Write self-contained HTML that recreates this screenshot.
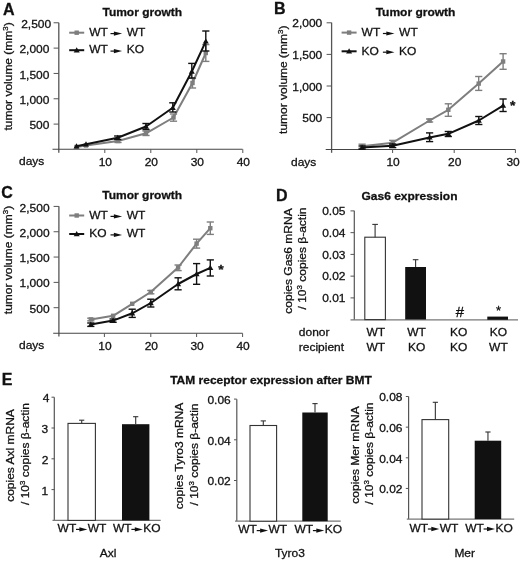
<!DOCTYPE html>
<html><head><meta charset="utf-8"><style>
html,body{margin:0;padding:0;background:#fff;width:520px;height:561px;overflow:hidden}
svg{display:block;font-family:"Liberation Sans",sans-serif;will-change:transform}
</style></head><body>
<svg width="520" height="561" viewBox="0 0 520 561" font-family="Liberation Sans, sans-serif">
<rect width="520" height="561" fill="#fff"/>
<text transform="translate(3,15.3) scale(1,1)" text-anchor="start" font-size="16" font-weight="bold" fill="#111" stroke="#111" stroke-width="0.3" >A</text>
<text transform="translate(274,13.8) scale(1,1)" text-anchor="start" font-size="16" font-weight="bold" fill="#111" stroke="#111" stroke-width="0.3" >B</text>
<text transform="translate(1.2,198.2) scale(1,1)" text-anchor="start" font-size="16" font-weight="bold" fill="#111" stroke="#111" stroke-width="0.3" >C</text>
<text transform="translate(276,200.5) scale(1,1)" text-anchor="start" font-size="16" font-weight="bold" fill="#111" stroke="#111" stroke-width="0.3" >D</text>
<text transform="translate(1.8,384.5) scale(1,1)" text-anchor="start" font-size="16" font-weight="bold" fill="#111" stroke="#111" stroke-width="0.3" >E</text>
<line x1="58.8" y1="22.7" x2="58.8" y2="152.8" stroke="#555" stroke-width="1.3"/>
<line x1="52.5" y1="149.3" x2="242.6" y2="149.3" stroke="#444" stroke-width="1.1"/>
<line x1="53.6" y1="124.1" x2="58.8" y2="124.1" stroke="#555" stroke-width="1"/>
<text transform="translate(49.4,129.2) scale(1,0.93)" text-anchor="end" font-size="12" fill="#111" stroke="#111" stroke-width="0.3" >500</text>
<line x1="53.6" y1="98.77" x2="58.8" y2="98.77" stroke="#555" stroke-width="1"/>
<text transform="translate(49.4,103.86999999999999) scale(1,0.93)" text-anchor="end" font-size="12" fill="#111" stroke="#111" stroke-width="0.3" >1,000</text>
<line x1="53.6" y1="73.44" x2="58.8" y2="73.44" stroke="#555" stroke-width="1"/>
<text transform="translate(49.4,78.53999999999999) scale(1,0.93)" text-anchor="end" font-size="12" fill="#111" stroke="#111" stroke-width="0.3" >1,500</text>
<line x1="53.6" y1="48.11" x2="58.8" y2="48.11" stroke="#555" stroke-width="1"/>
<text transform="translate(49.4,53.21) scale(1,0.93)" text-anchor="end" font-size="12" fill="#111" stroke="#111" stroke-width="0.3" >2,000</text>
<line x1="53.6" y1="22.78" x2="58.8" y2="22.78" stroke="#555" stroke-width="1"/>
<text transform="translate(51.2,27.880000000000003) scale(1,0.93)" text-anchor="end" font-size="12" fill="#111" stroke="#111" stroke-width="0.3" >2,500</text>
<line x1="104.8" y1="149.3" x2="104.8" y2="153" stroke="#555" stroke-width="1"/>
<text transform="translate(105.3,165.9) scale(1,0.93)" text-anchor="middle" font-size="12" fill="#111" stroke="#111" stroke-width="0.3" >10</text>
<line x1="150.8" y1="149.3" x2="150.8" y2="153" stroke="#555" stroke-width="1"/>
<text transform="translate(151.3,165.9) scale(1,0.93)" text-anchor="middle" font-size="12" fill="#111" stroke="#111" stroke-width="0.3" >20</text>
<line x1="196.8" y1="149.3" x2="196.8" y2="153" stroke="#555" stroke-width="1"/>
<text transform="translate(197.3,165.9) scale(1,0.93)" text-anchor="middle" font-size="12" fill="#111" stroke="#111" stroke-width="0.3" >30</text>
<line x1="242.8" y1="149.3" x2="242.8" y2="153" stroke="#555" stroke-width="1"/>
<text transform="translate(243.3,165.9) scale(1,0.93)" text-anchor="middle" font-size="12" fill="#111" stroke="#111" stroke-width="0.3" >40</text>
<text transform="translate(19,165.4) scale(1,0.93)" text-anchor="start" font-size="12" fill="#111" stroke="#111" stroke-width="0.3" >days</text>
<text transform="translate(12,76.4) rotate(-90) scale(1,0.93)" x="0" y="0" text-anchor="middle" font-size="12" fill="#111" stroke="#111" stroke-width="0.3">tumor volume (mm<tspan font-size="8" dy="-4.5">3</tspan><tspan dy="4.5">)</tspan></text>
<text transform="translate(142.3,15.6) scale(1,0.93)" text-anchor="middle" font-size="12" font-weight="bold" fill="#111" stroke="#111" stroke-width="0.3" >Tumor growth</text>
<line x1="69.2" y1="32.7" x2="84.2" y2="32.7" stroke="#7e7e7e" stroke-width="2"/>
<rect x="74.5" y="30.500000000000004" width="4.4" height="4.4" fill="#7e7e7e"/>
<text transform="translate(89.2,35.900000000000006) scale(1,0.93)" text-anchor="start" font-size="12" fill="#111" stroke="#111" stroke-width="0.3" >WT</text>
<line x1="110.5" y1="33.6" x2="114.39999999999999" y2="33.6" stroke="#111" stroke-width="1.2"/>
<path d="M113.89999999999999,31.5 L122.1,33.6 L113.89999999999999,35.7 Z" fill="#111"/>
<text transform="translate(126.7,35.900000000000006) scale(1,0.93)" text-anchor="start" font-size="12" fill="#111" stroke="#111" stroke-width="0.3" >WT</text>
<line x1="69.2" y1="50.2" x2="84.2" y2="50.2" stroke="#111" stroke-width="2"/>
<path d="M76.7,47.2 L79.7,52.400000000000006 L73.7,52.400000000000006 Z" fill="#111"/>
<text transform="translate(89.2,53.400000000000006) scale(1,0.93)" text-anchor="start" font-size="12" fill="#111" stroke="#111" stroke-width="0.3" >WT</text>
<line x1="110.5" y1="51.1" x2="114.39999999999999" y2="51.1" stroke="#111" stroke-width="1.2"/>
<path d="M113.89999999999999,49.0 L122.1,51.1 L113.89999999999999,53.2 Z" fill="#111"/>
<text transform="translate(126.7,53.400000000000006) scale(1,0.93)" text-anchor="start" font-size="12" fill="#111" stroke="#111" stroke-width="0.3" >KO</text>
<polyline points="76.5,147 86,145.5 118,141 146,133.3 173.5,117.5 192.5,83 205.8,53" fill="none" stroke="#7e7e7e" stroke-width="2" stroke-linejoin="round"/>
<line x1="118" y1="139.5" x2="118" y2="142.5" stroke="#7e7e7e" stroke-width="1.4"/>
<line x1="114.4" y1="139.5" x2="121.6" y2="139.5" stroke="#7e7e7e" stroke-width="1.4"/>
<line x1="114.4" y1="142.5" x2="121.6" y2="142.5" stroke="#7e7e7e" stroke-width="1.4"/>
<line x1="146" y1="131" x2="146" y2="135.5" stroke="#7e7e7e" stroke-width="1.4"/>
<line x1="142.4" y1="131" x2="149.6" y2="131" stroke="#7e7e7e" stroke-width="1.4"/>
<line x1="142.4" y1="135.5" x2="149.6" y2="135.5" stroke="#7e7e7e" stroke-width="1.4"/>
<line x1="173.5" y1="114" x2="173.5" y2="121.2" stroke="#7e7e7e" stroke-width="1.4"/>
<line x1="169.9" y1="114" x2="177.1" y2="114" stroke="#7e7e7e" stroke-width="1.4"/>
<line x1="169.9" y1="121.2" x2="177.1" y2="121.2" stroke="#7e7e7e" stroke-width="1.4"/>
<line x1="192.5" y1="78.3" x2="192.5" y2="88" stroke="#7e7e7e" stroke-width="1.4"/>
<line x1="188.9" y1="78.3" x2="196.1" y2="78.3" stroke="#7e7e7e" stroke-width="1.4"/>
<line x1="188.9" y1="88" x2="196.1" y2="88" stroke="#7e7e7e" stroke-width="1.4"/>
<line x1="205.8" y1="44.6" x2="205.8" y2="61.4" stroke="#7e7e7e" stroke-width="1.4"/>
<line x1="202.20000000000002" y1="44.6" x2="209.4" y2="44.6" stroke="#7e7e7e" stroke-width="1.4"/>
<line x1="202.20000000000002" y1="61.4" x2="209.4" y2="61.4" stroke="#7e7e7e" stroke-width="1.4"/>
<rect x="74.3" y="144.8" width="4.4" height="4.4" fill="#7e7e7e"/>
<rect x="83.8" y="143.3" width="4.4" height="4.4" fill="#7e7e7e"/>
<rect x="115.8" y="138.8" width="4.4" height="4.4" fill="#7e7e7e"/>
<rect x="143.8" y="131.10000000000002" width="4.4" height="4.4" fill="#7e7e7e"/>
<rect x="171.3" y="115.3" width="4.4" height="4.4" fill="#7e7e7e"/>
<rect x="190.3" y="80.8" width="4.4" height="4.4" fill="#7e7e7e"/>
<rect x="203.60000000000002" y="50.8" width="4.4" height="4.4" fill="#7e7e7e"/>
<polyline points="76.5,146.3 86,144.2 117.7,137.7 146,126.5 172.8,107.8 191.8,71.5 205.8,41.4" fill="none" stroke="#111" stroke-width="2" stroke-linejoin="round"/>
<line x1="117.7" y1="136" x2="117.7" y2="139.5" stroke="#111" stroke-width="1.4"/>
<line x1="114.10000000000001" y1="136" x2="121.3" y2="136" stroke="#111" stroke-width="1.4"/>
<line x1="114.10000000000001" y1="139.5" x2="121.3" y2="139.5" stroke="#111" stroke-width="1.4"/>
<line x1="146" y1="123.5" x2="146" y2="129.5" stroke="#111" stroke-width="1.4"/>
<line x1="142.4" y1="123.5" x2="149.6" y2="123.5" stroke="#111" stroke-width="1.4"/>
<line x1="142.4" y1="129.5" x2="149.6" y2="129.5" stroke="#111" stroke-width="1.4"/>
<line x1="172.8" y1="102.8" x2="172.8" y2="112" stroke="#111" stroke-width="1.4"/>
<line x1="169.20000000000002" y1="102.8" x2="176.4" y2="102.8" stroke="#111" stroke-width="1.4"/>
<line x1="169.20000000000002" y1="112" x2="176.4" y2="112" stroke="#111" stroke-width="1.4"/>
<line x1="191.8" y1="63.4" x2="191.8" y2="78" stroke="#111" stroke-width="1.4"/>
<line x1="188.20000000000002" y1="63.4" x2="195.4" y2="63.4" stroke="#111" stroke-width="1.4"/>
<line x1="188.20000000000002" y1="78" x2="195.4" y2="78" stroke="#111" stroke-width="1.4"/>
<line x1="205.8" y1="31" x2="205.8" y2="51" stroke="#111" stroke-width="1.4"/>
<line x1="202.20000000000002" y1="31" x2="209.4" y2="31" stroke="#111" stroke-width="1.4"/>
<line x1="202.20000000000002" y1="51" x2="209.4" y2="51" stroke="#111" stroke-width="1.4"/>
<path d="M76.5,143.3 L79.5,148.5 L73.5,148.5 Z" fill="#111"/>
<path d="M86,141.2 L89,146.39999999999998 L83,146.39999999999998 Z" fill="#111"/>
<path d="M117.7,134.7 L120.7,139.89999999999998 L114.7,139.89999999999998 Z" fill="#111"/>
<path d="M146,123.5 L149,128.7 L143,128.7 Z" fill="#111"/>
<path d="M172.8,104.8 L175.8,110.0 L169.8,110.0 Z" fill="#111"/>
<path d="M191.8,68.5 L194.8,73.7 L188.8,73.7 Z" fill="#111"/>
<path d="M205.8,38.4 L208.8,43.6 L202.8,43.6 Z" fill="#111"/>
<line x1="331.6" y1="22.6" x2="331.6" y2="152.8" stroke="#555" stroke-width="1.3"/>
<line x1="325.7" y1="149.5" x2="515.4" y2="149.5" stroke="#444" stroke-width="1.1"/>
<line x1="326.6" y1="117.6" x2="331.6" y2="117.6" stroke="#555" stroke-width="1"/>
<text transform="translate(322.3,122.19999999999999) scale(1,0.93)" text-anchor="end" font-size="12" fill="#111" stroke="#111" stroke-width="0.3" >500</text>
<line x1="326.6" y1="86.0" x2="331.6" y2="86.0" stroke="#555" stroke-width="1"/>
<text transform="translate(322.3,90.6) scale(1,0.93)" text-anchor="end" font-size="12" fill="#111" stroke="#111" stroke-width="0.3" >1,000</text>
<line x1="326.6" y1="54.39999999999999" x2="331.6" y2="54.39999999999999" stroke="#555" stroke-width="1"/>
<text transform="translate(322.3,58.99999999999999) scale(1,0.93)" text-anchor="end" font-size="12" fill="#111" stroke="#111" stroke-width="0.3" >1,500</text>
<line x1="326.6" y1="22.799999999999983" x2="331.6" y2="22.799999999999983" stroke="#555" stroke-width="1"/>
<text transform="translate(322.3,27.399999999999984) scale(1,0.93)" text-anchor="end" font-size="12" fill="#111" stroke="#111" stroke-width="0.3" >2,000</text>
<line x1="392.6" y1="149.5" x2="392.6" y2="153" stroke="#555" stroke-width="1"/>
<text transform="translate(393.1,165.9) scale(1,0.93)" text-anchor="middle" font-size="12" fill="#111" stroke="#111" stroke-width="0.3" >10</text>
<line x1="454.2" y1="149.5" x2="454.2" y2="153" stroke="#555" stroke-width="1"/>
<text transform="translate(454.7,165.9) scale(1,0.93)" text-anchor="middle" font-size="12" fill="#111" stroke="#111" stroke-width="0.3" >20</text>
<line x1="515.4" y1="149.5" x2="515.4" y2="153" stroke="#555" stroke-width="1"/>
<text transform="translate(513.1,165.9) scale(1,0.93)" text-anchor="middle" font-size="12" fill="#111" stroke="#111" stroke-width="0.3" >30</text>
<text transform="translate(291,165.6) scale(1,0.93)" text-anchor="start" font-size="12" fill="#111" stroke="#111" stroke-width="0.3" >days</text>
<text transform="translate(287.2,79.7) rotate(-90) scale(1,0.93)" x="0" y="0" text-anchor="middle" font-size="12" fill="#111" stroke="#111" stroke-width="0.3">tumor volume (mm<tspan font-size="8" dy="-4.5">3</tspan><tspan dy="4.5">)</tspan></text>
<text transform="translate(415.5,16.3) scale(1,0.93)" text-anchor="middle" font-size="12" font-weight="bold" fill="#111" stroke="#111" stroke-width="0.3" >Tumor growth</text>
<line x1="341.6" y1="32.6" x2="356.6" y2="32.6" stroke="#7e7e7e" stroke-width="2"/>
<rect x="346.90000000000003" y="30.400000000000002" width="4.4" height="4.4" fill="#7e7e7e"/>
<text transform="translate(361.6,35.800000000000004) scale(1,0.93)" text-anchor="start" font-size="12" fill="#111" stroke="#111" stroke-width="0.3" >WT</text>
<line x1="382.90000000000003" y1="33.5" x2="386.80000000000007" y2="33.5" stroke="#111" stroke-width="1.2"/>
<path d="M386.30000000000007,31.4 L394.50000000000006,33.5 L386.30000000000007,35.6 Z" fill="#111"/>
<text transform="translate(399.1,35.800000000000004) scale(1,0.93)" text-anchor="start" font-size="12" fill="#111" stroke="#111" stroke-width="0.3" >WT</text>
<line x1="341.6" y1="51.3" x2="356.6" y2="51.3" stroke="#111" stroke-width="2"/>
<path d="M349.1,48.3 L352.1,53.5 L346.1,53.5 Z" fill="#111"/>
<text transform="translate(361.6,54.5) scale(1,0.93)" text-anchor="start" font-size="12" fill="#111" stroke="#111" stroke-width="0.3" >KO</text>
<line x1="382.90000000000003" y1="52.199999999999996" x2="386.80000000000007" y2="52.199999999999996" stroke="#111" stroke-width="1.2"/>
<path d="M386.30000000000007,50.099999999999994 L394.50000000000006,52.199999999999996 L386.30000000000007,54.3 Z" fill="#111"/>
<text transform="translate(399.1,54.5) scale(1,0.93)" text-anchor="start" font-size="12" fill="#111" stroke="#111" stroke-width="0.3" >KO</text>
<polyline points="362.1,146.2 392.7,142.7 429.6,120.5 448.3,109.8 478.7,83.6 503.1,61.5" fill="none" stroke="#7e7e7e" stroke-width="2" stroke-linejoin="round"/>
<line x1="362.1" y1="144.2" x2="362.1" y2="148.2" stroke="#7e7e7e" stroke-width="1.4"/>
<line x1="358.5" y1="144.2" x2="365.70000000000005" y2="144.2" stroke="#7e7e7e" stroke-width="1.4"/>
<line x1="358.5" y1="148.2" x2="365.70000000000005" y2="148.2" stroke="#7e7e7e" stroke-width="1.4"/>
<line x1="392.7" y1="140.4" x2="392.7" y2="144.8" stroke="#7e7e7e" stroke-width="1.4"/>
<line x1="389.09999999999997" y1="140.4" x2="396.3" y2="140.4" stroke="#7e7e7e" stroke-width="1.4"/>
<line x1="389.09999999999997" y1="144.8" x2="396.3" y2="144.8" stroke="#7e7e7e" stroke-width="1.4"/>
<line x1="429.6" y1="119" x2="429.6" y2="122" stroke="#7e7e7e" stroke-width="1.4"/>
<line x1="426.0" y1="119" x2="433.20000000000005" y2="119" stroke="#7e7e7e" stroke-width="1.4"/>
<line x1="426.0" y1="122" x2="433.20000000000005" y2="122" stroke="#7e7e7e" stroke-width="1.4"/>
<line x1="448.3" y1="103.8" x2="448.3" y2="116.3" stroke="#7e7e7e" stroke-width="1.4"/>
<line x1="444.7" y1="103.8" x2="451.90000000000003" y2="103.8" stroke="#7e7e7e" stroke-width="1.4"/>
<line x1="444.7" y1="116.3" x2="451.90000000000003" y2="116.3" stroke="#7e7e7e" stroke-width="1.4"/>
<line x1="478.7" y1="76.5" x2="478.7" y2="90.4" stroke="#7e7e7e" stroke-width="1.4"/>
<line x1="475.09999999999997" y1="76.5" x2="482.3" y2="76.5" stroke="#7e7e7e" stroke-width="1.4"/>
<line x1="475.09999999999997" y1="90.4" x2="482.3" y2="90.4" stroke="#7e7e7e" stroke-width="1.4"/>
<line x1="503.1" y1="53.7" x2="503.1" y2="69.3" stroke="#7e7e7e" stroke-width="1.4"/>
<line x1="499.5" y1="53.7" x2="506.70000000000005" y2="53.7" stroke="#7e7e7e" stroke-width="1.4"/>
<line x1="499.5" y1="69.3" x2="506.70000000000005" y2="69.3" stroke="#7e7e7e" stroke-width="1.4"/>
<rect x="359.90000000000003" y="144.0" width="4.4" height="4.4" fill="#7e7e7e"/>
<rect x="390.5" y="140.5" width="4.4" height="4.4" fill="#7e7e7e"/>
<rect x="427.40000000000003" y="118.3" width="4.4" height="4.4" fill="#7e7e7e"/>
<rect x="446.1" y="107.6" width="4.4" height="4.4" fill="#7e7e7e"/>
<rect x="476.5" y="81.39999999999999" width="4.4" height="4.4" fill="#7e7e7e"/>
<rect x="500.90000000000003" y="59.3" width="4.4" height="4.4" fill="#7e7e7e"/>
<polyline points="362.1,147.6 392.7,145.8 429.6,137.4 448.3,133.8 478.8,120.5 503.1,105.6" fill="none" stroke="#111" stroke-width="2" stroke-linejoin="round"/>
<line x1="362.1" y1="146" x2="362.1" y2="149.2" stroke="#111" stroke-width="1.4"/>
<line x1="358.5" y1="146" x2="365.70000000000005" y2="146" stroke="#111" stroke-width="1.4"/>
<line x1="358.5" y1="149.2" x2="365.70000000000005" y2="149.2" stroke="#111" stroke-width="1.4"/>
<line x1="392.7" y1="144" x2="392.7" y2="147.6" stroke="#111" stroke-width="1.4"/>
<line x1="389.09999999999997" y1="144" x2="396.3" y2="144" stroke="#111" stroke-width="1.4"/>
<line x1="389.09999999999997" y1="147.6" x2="396.3" y2="147.6" stroke="#111" stroke-width="1.4"/>
<line x1="429.6" y1="132.9" x2="429.6" y2="141.6" stroke="#111" stroke-width="1.4"/>
<line x1="426.0" y1="132.9" x2="433.20000000000005" y2="132.9" stroke="#111" stroke-width="1.4"/>
<line x1="426.0" y1="141.6" x2="433.20000000000005" y2="141.6" stroke="#111" stroke-width="1.4"/>
<line x1="448.3" y1="131.5" x2="448.3" y2="136.5" stroke="#111" stroke-width="1.4"/>
<line x1="444.7" y1="131.5" x2="451.90000000000003" y2="131.5" stroke="#111" stroke-width="1.4"/>
<line x1="444.7" y1="136.5" x2="451.90000000000003" y2="136.5" stroke="#111" stroke-width="1.4"/>
<line x1="478.8" y1="116.5" x2="478.8" y2="124.5" stroke="#111" stroke-width="1.4"/>
<line x1="475.2" y1="116.5" x2="482.40000000000003" y2="116.5" stroke="#111" stroke-width="1.4"/>
<line x1="475.2" y1="124.5" x2="482.40000000000003" y2="124.5" stroke="#111" stroke-width="1.4"/>
<line x1="503.1" y1="99" x2="503.1" y2="111.5" stroke="#111" stroke-width="1.4"/>
<line x1="499.5" y1="99" x2="506.70000000000005" y2="99" stroke="#111" stroke-width="1.4"/>
<line x1="499.5" y1="111.5" x2="506.70000000000005" y2="111.5" stroke="#111" stroke-width="1.4"/>
<path d="M362.1,144.6 L365.1,149.79999999999998 L359.1,149.79999999999998 Z" fill="#111"/>
<path d="M392.7,142.8 L395.7,148.0 L389.7,148.0 Z" fill="#111"/>
<path d="M429.6,134.4 L432.6,139.6 L426.6,139.6 Z" fill="#111"/>
<path d="M448.3,130.8 L451.3,136.0 L445.3,136.0 Z" fill="#111"/>
<path d="M478.8,117.5 L481.8,122.7 L475.8,122.7 Z" fill="#111"/>
<path d="M503.1,102.6 L506.1,107.8 L500.1,107.8 Z" fill="#111"/>
<text transform="translate(512.6,110.2) scale(1,0.93)" text-anchor="middle" font-size="14" font-weight="bold" fill="#111" stroke="#111" stroke-width="0.3" >*</text>
<line x1="58.9" y1="206.2" x2="58.9" y2="336.5" stroke="#555" stroke-width="1.3"/>
<line x1="53.2" y1="333.3" x2="242.6" y2="333.3" stroke="#444" stroke-width="1.1"/>
<line x1="53.6" y1="307.7" x2="58.9" y2="307.7" stroke="#555" stroke-width="1"/>
<text transform="translate(49.6,312.8) scale(1,0.93)" text-anchor="end" font-size="12" fill="#111" stroke="#111" stroke-width="0.3" >500</text>
<line x1="53.6" y1="282.38" x2="58.9" y2="282.38" stroke="#555" stroke-width="1"/>
<text transform="translate(49.6,287.48) scale(1,0.93)" text-anchor="end" font-size="12" fill="#111" stroke="#111" stroke-width="0.3" >1,000</text>
<line x1="53.6" y1="257.06" x2="58.9" y2="257.06" stroke="#555" stroke-width="1"/>
<text transform="translate(49.6,262.16) scale(1,0.93)" text-anchor="end" font-size="12" fill="#111" stroke="#111" stroke-width="0.3" >1,500</text>
<line x1="53.6" y1="231.73999999999998" x2="58.9" y2="231.73999999999998" stroke="#555" stroke-width="1"/>
<text transform="translate(49.6,236.83999999999997) scale(1,0.93)" text-anchor="end" font-size="12" fill="#111" stroke="#111" stroke-width="0.3" >2,000</text>
<line x1="53.6" y1="206.42" x2="58.9" y2="206.42" stroke="#555" stroke-width="1"/>
<text transform="translate(49.6,211.51999999999998) scale(1,0.93)" text-anchor="end" font-size="12" fill="#111" stroke="#111" stroke-width="0.3" >2,500</text>
<line x1="104.4" y1="333.3" x2="104.4" y2="337" stroke="#555" stroke-width="1"/>
<text transform="translate(104.9,349.9) scale(1,0.93)" text-anchor="middle" font-size="12" fill="#111" stroke="#111" stroke-width="0.3" >10</text>
<line x1="150.8" y1="333.3" x2="150.8" y2="337" stroke="#555" stroke-width="1"/>
<text transform="translate(151.3,349.9) scale(1,0.93)" text-anchor="middle" font-size="12" fill="#111" stroke="#111" stroke-width="0.3" >20</text>
<line x1="196.6" y1="333.3" x2="196.6" y2="337" stroke="#555" stroke-width="1"/>
<text transform="translate(197.1,349.9) scale(1,0.93)" text-anchor="middle" font-size="12" fill="#111" stroke="#111" stroke-width="0.3" >30</text>
<line x1="242.6" y1="333.3" x2="242.6" y2="337" stroke="#555" stroke-width="1"/>
<text transform="translate(243.1,349.9) scale(1,0.93)" text-anchor="middle" font-size="12" fill="#111" stroke="#111" stroke-width="0.3" >40</text>
<text transform="translate(19,349.4) scale(1,0.93)" text-anchor="start" font-size="12" fill="#111" stroke="#111" stroke-width="0.3" >days</text>
<text transform="translate(12,260) rotate(-90) scale(1,0.93)" x="0" y="0" text-anchor="middle" font-size="12" fill="#111" stroke="#111" stroke-width="0.3">tumor volume (mm<tspan font-size="8" dy="-4.5">3</tspan><tspan dy="4.5">)</tspan></text>
<text transform="translate(142.2,199.4) scale(1,0.93)" text-anchor="middle" font-size="12" font-weight="bold" fill="#111" stroke="#111" stroke-width="0.3" >Tumor growth</text>
<line x1="69.2" y1="215.5" x2="84.2" y2="215.5" stroke="#7e7e7e" stroke-width="2"/>
<rect x="74.5" y="213.3" width="4.4" height="4.4" fill="#7e7e7e"/>
<text transform="translate(89.2,218.7) scale(1,0.93)" text-anchor="start" font-size="12" fill="#111" stroke="#111" stroke-width="0.3" >WT</text>
<line x1="110.5" y1="216.4" x2="114.39999999999999" y2="216.4" stroke="#111" stroke-width="1.2"/>
<path d="M113.89999999999999,214.3 L122.1,216.4 L113.89999999999999,218.5 Z" fill="#111"/>
<text transform="translate(126.7,218.7) scale(1,0.93)" text-anchor="start" font-size="12" fill="#111" stroke="#111" stroke-width="0.3" >WT</text>
<line x1="69.2" y1="234" x2="84.2" y2="234" stroke="#111" stroke-width="2"/>
<path d="M76.7,231 L79.7,236.2 L73.7,236.2 Z" fill="#111"/>
<text transform="translate(89.2,237.2) scale(1,0.93)" text-anchor="start" font-size="12" fill="#111" stroke="#111" stroke-width="0.3" >KO</text>
<line x1="110.5" y1="234.9" x2="114.39999999999999" y2="234.9" stroke="#111" stroke-width="1.2"/>
<path d="M113.89999999999999,232.8 L122.1,234.9 L113.89999999999999,237.0 Z" fill="#111"/>
<text transform="translate(126.7,237.2) scale(1,0.93)" text-anchor="start" font-size="12" fill="#111" stroke="#111" stroke-width="0.3" >WT</text>
<polyline points="90.8,319.4 113.1,315.8 132.2,303.8 150.8,292 178.1,267.5 196.6,243.6 210.3,228.2" fill="none" stroke="#7e7e7e" stroke-width="2" stroke-linejoin="round"/>
<line x1="90.8" y1="318.2" x2="90.8" y2="320.8" stroke="#7e7e7e" stroke-width="1.4"/>
<line x1="87.2" y1="318.2" x2="94.39999999999999" y2="318.2" stroke="#7e7e7e" stroke-width="1.4"/>
<line x1="87.2" y1="320.8" x2="94.39999999999999" y2="320.8" stroke="#7e7e7e" stroke-width="1.4"/>
<line x1="150.8" y1="290.5" x2="150.8" y2="293.8" stroke="#7e7e7e" stroke-width="1.4"/>
<line x1="147.20000000000002" y1="290.5" x2="154.4" y2="290.5" stroke="#7e7e7e" stroke-width="1.4"/>
<line x1="147.20000000000002" y1="293.8" x2="154.4" y2="293.8" stroke="#7e7e7e" stroke-width="1.4"/>
<line x1="178.1" y1="265" x2="178.1" y2="270.6" stroke="#7e7e7e" stroke-width="1.4"/>
<line x1="174.5" y1="265" x2="181.7" y2="265" stroke="#7e7e7e" stroke-width="1.4"/>
<line x1="174.5" y1="270.6" x2="181.7" y2="270.6" stroke="#7e7e7e" stroke-width="1.4"/>
<line x1="196.6" y1="239.2" x2="196.6" y2="248.1" stroke="#7e7e7e" stroke-width="1.4"/>
<line x1="193.0" y1="239.2" x2="200.2" y2="239.2" stroke="#7e7e7e" stroke-width="1.4"/>
<line x1="193.0" y1="248.1" x2="200.2" y2="248.1" stroke="#7e7e7e" stroke-width="1.4"/>
<line x1="210.3" y1="222" x2="210.3" y2="234.4" stroke="#7e7e7e" stroke-width="1.4"/>
<line x1="206.70000000000002" y1="222" x2="213.9" y2="222" stroke="#7e7e7e" stroke-width="1.4"/>
<line x1="206.70000000000002" y1="234.4" x2="213.9" y2="234.4" stroke="#7e7e7e" stroke-width="1.4"/>
<rect x="88.6" y="317.2" width="4.4" height="4.4" fill="#7e7e7e"/>
<rect x="110.89999999999999" y="313.6" width="4.4" height="4.4" fill="#7e7e7e"/>
<rect x="130.0" y="301.6" width="4.4" height="4.4" fill="#7e7e7e"/>
<rect x="148.60000000000002" y="289.8" width="4.4" height="4.4" fill="#7e7e7e"/>
<rect x="175.9" y="265.3" width="4.4" height="4.4" fill="#7e7e7e"/>
<rect x="194.4" y="241.4" width="4.4" height="4.4" fill="#7e7e7e"/>
<rect x="208.10000000000002" y="226.0" width="4.4" height="4.4" fill="#7e7e7e"/>
<polyline points="90.8,324.6 113.1,320.6 132.2,313.3 150.8,303 178.1,284 196.6,274 210.3,267.8" fill="none" stroke="#111" stroke-width="2" stroke-linejoin="round"/>
<line x1="90.8" y1="323" x2="90.8" y2="326.4" stroke="#111" stroke-width="1.4"/>
<line x1="87.2" y1="323" x2="94.39999999999999" y2="323" stroke="#111" stroke-width="1.4"/>
<line x1="87.2" y1="326.4" x2="94.39999999999999" y2="326.4" stroke="#111" stroke-width="1.4"/>
<line x1="113.1" y1="319" x2="113.1" y2="322.3" stroke="#111" stroke-width="1.4"/>
<line x1="109.5" y1="319" x2="116.69999999999999" y2="319" stroke="#111" stroke-width="1.4"/>
<line x1="109.5" y1="322.3" x2="116.69999999999999" y2="322.3" stroke="#111" stroke-width="1.4"/>
<line x1="132.2" y1="309.2" x2="132.2" y2="317.4" stroke="#111" stroke-width="1.4"/>
<line x1="128.6" y1="309.2" x2="135.79999999999998" y2="309.2" stroke="#111" stroke-width="1.4"/>
<line x1="128.6" y1="317.4" x2="135.79999999999998" y2="317.4" stroke="#111" stroke-width="1.4"/>
<line x1="150.8" y1="299.2" x2="150.8" y2="307" stroke="#111" stroke-width="1.4"/>
<line x1="147.20000000000002" y1="299.2" x2="154.4" y2="299.2" stroke="#111" stroke-width="1.4"/>
<line x1="147.20000000000002" y1="307" x2="154.4" y2="307" stroke="#111" stroke-width="1.4"/>
<line x1="178.1" y1="277.8" x2="178.1" y2="289.8" stroke="#111" stroke-width="1.4"/>
<line x1="174.5" y1="277.8" x2="181.7" y2="277.8" stroke="#111" stroke-width="1.4"/>
<line x1="174.5" y1="289.8" x2="181.7" y2="289.8" stroke="#111" stroke-width="1.4"/>
<line x1="196.6" y1="263.6" x2="196.6" y2="284.3" stroke="#111" stroke-width="1.4"/>
<line x1="193.0" y1="263.6" x2="200.2" y2="263.6" stroke="#111" stroke-width="1.4"/>
<line x1="193.0" y1="284.3" x2="200.2" y2="284.3" stroke="#111" stroke-width="1.4"/>
<line x1="210.3" y1="259.9" x2="210.3" y2="276" stroke="#111" stroke-width="1.4"/>
<line x1="206.70000000000002" y1="259.9" x2="213.9" y2="259.9" stroke="#111" stroke-width="1.4"/>
<line x1="206.70000000000002" y1="276" x2="213.9" y2="276" stroke="#111" stroke-width="1.4"/>
<path d="M90.8,321.6 L93.8,326.8 L87.8,326.8 Z" fill="#111"/>
<path d="M113.1,317.6 L116.1,322.8 L110.1,322.8 Z" fill="#111"/>
<path d="M132.2,310.3 L135.2,315.5 L129.2,315.5 Z" fill="#111"/>
<path d="M150.8,300 L153.8,305.2 L147.8,305.2 Z" fill="#111"/>
<path d="M178.1,281 L181.1,286.2 L175.1,286.2 Z" fill="#111"/>
<path d="M196.6,271 L199.6,276.2 L193.6,276.2 Z" fill="#111"/>
<path d="M210.3,264.8 L213.3,270.0 L207.3,270.0 Z" fill="#111"/>
<text transform="translate(221,274.3) scale(1,0.93)" text-anchor="middle" font-size="14" font-weight="bold" fill="#111" stroke="#111" stroke-width="0.3" >*</text>
<line x1="354.3" y1="210.8" x2="354.3" y2="319.8" stroke="#555" stroke-width="1.2"/>
<line x1="350.5" y1="319.8" x2="518" y2="319.8" stroke="#777" stroke-width="1.3"/>
<line x1="350.5" y1="297.9" x2="354.3" y2="297.9" stroke="#555" stroke-width="1"/>
<text transform="translate(345.5,302.09999999999997) scale(1,0.93)" text-anchor="end" font-size="12" fill="#111" stroke="#111" stroke-width="0.3" >0.01</text>
<line x1="350.5" y1="276.15" x2="354.3" y2="276.15" stroke="#555" stroke-width="1"/>
<text transform="translate(345.5,280.34999999999997) scale(1,0.93)" text-anchor="end" font-size="12" fill="#111" stroke="#111" stroke-width="0.3" >0.02</text>
<line x1="350.5" y1="254.39999999999998" x2="354.3" y2="254.39999999999998" stroke="#555" stroke-width="1"/>
<text transform="translate(345.5,258.59999999999997) scale(1,0.93)" text-anchor="end" font-size="12" fill="#111" stroke="#111" stroke-width="0.3" >0.03</text>
<line x1="350.5" y1="232.64999999999998" x2="354.3" y2="232.64999999999998" stroke="#555" stroke-width="1"/>
<text transform="translate(345.5,236.84999999999997) scale(1,0.93)" text-anchor="end" font-size="12" fill="#111" stroke="#111" stroke-width="0.3" >0.04</text>
<line x1="350.5" y1="210.89999999999998" x2="354.3" y2="210.89999999999998" stroke="#555" stroke-width="1"/>
<text transform="translate(345.5,215.09999999999997) scale(1,0.93)" text-anchor="end" font-size="12" fill="#111" stroke="#111" stroke-width="0.3" >0.05</text>
<text transform="translate(409.5,199.8) scale(1,0.93)" text-anchor="middle" font-size="12" font-weight="bold" fill="#111" stroke="#111" stroke-width="0.3" >Gas6 expression</text>
<rect x="364.8" y="237.2" width="20.6" height="82.4" fill="#fff" stroke="#333" stroke-width="1.1"/>
<line x1="375.1" y1="237.2" x2="375.1" y2="224.4" stroke="#333" stroke-width="1.1"/>
<line x1="372.3" y1="224.4" x2="377.9" y2="224.4" stroke="#333" stroke-width="1.1"/>
<rect x="405.2" y="267" width="20.8" height="52.5" fill="#111"/>
<line x1="415.6" y1="267" x2="415.6" y2="259.7" stroke="#333" stroke-width="1.1"/>
<line x1="412.8" y1="259.7" x2="418.4" y2="259.7" stroke="#333" stroke-width="1.1"/>
<rect x="487.3" y="316.6" width="20.7" height="3.2" fill="#111"/>
<text transform="translate(459.6,317.2) scale(1,0.93)" text-anchor="middle" font-size="15" fill="#111" stroke="#111" stroke-width="0.3" font-style="italic">#</text>
<text transform="translate(498.4,314.5) scale(1,0.93)" text-anchor="middle" font-size="13" fill="#111" stroke="#111" stroke-width="0.3" >*</text>
<text transform="translate(291.7,261) rotate(-90) scale(1,0.93)" x="0" y="0" text-anchor="middle" font-size="12" fill="#111" stroke="#111" stroke-width="0.3">copies Gas6 mRNA</text>
<text transform="translate(306.3,258.5) rotate(-90) scale(1,0.93)" x="0" y="0" text-anchor="middle" font-size="12" fill="#111" stroke="#111" stroke-width="0.3">/ 10<tspan font-size="8" dy="-4.5">3</tspan><tspan dy="4.5"> copies β-actin</tspan></text>
<text transform="translate(298.8,335.7) scale(1,0.93)" text-anchor="start" font-size="12" fill="#111" stroke="#111" stroke-width="0.3" >donor</text>
<text transform="translate(298.8,350.6) scale(1,0.93)" text-anchor="start" font-size="12" fill="#111" stroke="#111" stroke-width="0.3" >recipient</text>
<text transform="translate(375.7,335.7) scale(1,0.93)" text-anchor="middle" font-size="12" fill="#111" stroke="#111" stroke-width="0.3" >WT</text>
<text transform="translate(375.7,350.6) scale(1,0.93)" text-anchor="middle" font-size="12" fill="#111" stroke="#111" stroke-width="0.3" >WT</text>
<text transform="translate(416.6,335.7) scale(1,0.93)" text-anchor="middle" font-size="12" fill="#111" stroke="#111" stroke-width="0.3" >WT</text>
<text transform="translate(416.6,350.6) scale(1,0.93)" text-anchor="middle" font-size="12" fill="#111" stroke="#111" stroke-width="0.3" >KO</text>
<text transform="translate(458.7,335.7) scale(1,0.93)" text-anchor="middle" font-size="12" fill="#111" stroke="#111" stroke-width="0.3" >KO</text>
<text transform="translate(458.7,350.6) scale(1,0.93)" text-anchor="middle" font-size="12" fill="#111" stroke="#111" stroke-width="0.3" >KO</text>
<text transform="translate(498.4,335.7) scale(1,0.93)" text-anchor="middle" font-size="12" fill="#111" stroke="#111" stroke-width="0.3" >KO</text>
<text transform="translate(498.4,350.6) scale(1,0.93)" text-anchor="middle" font-size="12" fill="#111" stroke="#111" stroke-width="0.3" >WT</text>
<text transform="translate(271,384.4) scale(1,0.93)" text-anchor="middle" font-size="12" font-weight="bold" fill="#111" stroke="#111" stroke-width="0.3" >TAM receptor expression after BMT</text>
<line x1="54.3" y1="397.3" x2="54.3" y2="520.4" stroke="#555" stroke-width="1.2"/>
<line x1="52.5" y1="520.4" x2="160.7" y2="520.4" stroke="#777" stroke-width="1.3"/>
<line x1="51.5" y1="489.59999999999997" x2="54.3" y2="489.59999999999997" stroke="#555" stroke-width="1"/>
<text transform="translate(48.1,494.49999999999994) scale(1,0.93)" text-anchor="end" font-size="12" fill="#111" stroke="#111" stroke-width="0.3" >1</text>
<line x1="51.5" y1="458.79999999999995" x2="54.3" y2="458.79999999999995" stroke="#555" stroke-width="1"/>
<text transform="translate(48.4,463.69999999999993) scale(1,0.93)" text-anchor="end" font-size="12" fill="#111" stroke="#111" stroke-width="0.3" >2</text>
<line x1="51.5" y1="428.0" x2="54.3" y2="428.0" stroke="#555" stroke-width="1"/>
<text transform="translate(48.2,432.9) scale(1,0.93)" text-anchor="end" font-size="12" fill="#111" stroke="#111" stroke-width="0.3" >3</text>
<line x1="51.5" y1="397.2" x2="54.3" y2="397.2" stroke="#555" stroke-width="1"/>
<text transform="translate(49.5,402.09999999999997) scale(1,0.93)" text-anchor="end" font-size="12" fill="#111" stroke="#111" stroke-width="0.3" >4</text>
<rect x="68" y="423.4" width="27.400000000000006" height="97.0" fill="#fff" stroke="#333" stroke-width="1.1"/>
<line x1="81.7" y1="423.4" x2="81.7" y2="420.2" stroke="#333" stroke-width="1.1"/>
<line x1="79.10000000000001" y1="420.2" x2="84.3" y2="420.2" stroke="#333" stroke-width="1.1"/>
<rect x="122" y="424.2" width="27.400000000000006" height="96.19999999999999" fill="#111"/>
<line x1="135.7" y1="424.2" x2="135.7" y2="416.7" stroke="#333" stroke-width="1.1"/>
<line x1="133.1" y1="416.7" x2="138.29999999999998" y2="416.7" stroke="#333" stroke-width="1.1"/>
<text transform="translate(14.2,455.5) rotate(-90) scale(1,0.93)" x="0" y="0" text-anchor="middle" font-size="12" fill="#111" stroke="#111" stroke-width="0.3">copies Axl mRNA</text>
<text transform="translate(29.4,454.0) rotate(-90) scale(1,0.93)" x="0" y="0" text-anchor="middle" font-size="12" fill="#111" stroke="#111" stroke-width="0.3">/ 10<tspan font-size="8" dy="-4.5">3</tspan><tspan dy="4.5"> copies β-actin</tspan></text>
<text transform="translate(57.6,532.1) scale(1,0.93)" text-anchor="start" font-size="12" fill="#111" stroke="#111" stroke-width="0.3" >WT</text>
<line x1="76.0" y1="529.4" x2="79.9" y2="529.4" stroke="#111" stroke-width="1.2"/>
<path d="M79.4,527.1999999999999 L87.4,529.4 L79.4,531.6 Z" fill="#111"/>
<text transform="translate(87.8,532.1) scale(1,0.93)" text-anchor="start" font-size="12" fill="#111" stroke="#111" stroke-width="0.3" >WT</text>
<text transform="translate(113,532.1) scale(1,0.93)" text-anchor="start" font-size="12" fill="#111" stroke="#111" stroke-width="0.3" >WT</text>
<line x1="131.4" y1="529.4" x2="135.3" y2="529.4" stroke="#111" stroke-width="1.2"/>
<path d="M134.8,527.1999999999999 L142.8,529.4 L134.8,531.6 Z" fill="#111"/>
<text transform="translate(143.2,532.1) scale(1,0.93)" text-anchor="start" font-size="12" fill="#111" stroke="#111" stroke-width="0.3" >KO</text>
<text transform="translate(108.1,556.9) scale(1,0.93)" text-anchor="middle" font-size="12" fill="#111" stroke="#111" stroke-width="0.3" >Axl</text>
<line x1="236.8" y1="399.2" x2="236.8" y2="521.2" stroke="#555" stroke-width="1.2"/>
<line x1="235.0" y1="521.2" x2="340.7" y2="521.2" stroke="#777" stroke-width="1.3"/>
<line x1="234.0" y1="480.50000000000006" x2="236.8" y2="480.50000000000006" stroke="#555" stroke-width="1"/>
<text transform="translate(230.8,485.40000000000003) scale(1,0.93)" text-anchor="end" font-size="12" fill="#111" stroke="#111" stroke-width="0.3" >0.02</text>
<line x1="234.0" y1="439.80000000000007" x2="236.8" y2="439.80000000000007" stroke="#555" stroke-width="1"/>
<text transform="translate(230.8,444.70000000000005) scale(1,0.93)" text-anchor="end" font-size="12" fill="#111" stroke="#111" stroke-width="0.3" >0.04</text>
<line x1="234.0" y1="399.1" x2="236.8" y2="399.1" stroke="#555" stroke-width="1"/>
<text transform="translate(230.8,404.0) scale(1,0.93)" text-anchor="end" font-size="12" fill="#111" stroke="#111" stroke-width="0.3" >0.06</text>
<rect x="250" y="425.5" width="26.600000000000023" height="95.70000000000005" fill="#fff" stroke="#333" stroke-width="1.1"/>
<line x1="263.3" y1="425.5" x2="263.3" y2="420.9" stroke="#333" stroke-width="1.1"/>
<line x1="260.7" y1="420.9" x2="265.90000000000003" y2="420.9" stroke="#333" stroke-width="1.1"/>
<rect x="302.3" y="412.5" width="25.399999999999977" height="108.70000000000005" fill="#111"/>
<line x1="315.0" y1="412.5" x2="315.0" y2="403.6" stroke="#333" stroke-width="1.1"/>
<line x1="312.4" y1="403.6" x2="317.6" y2="403.6" stroke="#333" stroke-width="1.1"/>
<text transform="translate(182.8,456) rotate(-90) scale(1,0.93)" x="0" y="0" text-anchor="middle" font-size="12" fill="#111" stroke="#111" stroke-width="0.3">copies Tyro3 mRNA</text>
<text transform="translate(197.7,454.5) rotate(-90) scale(1,0.93)" x="0" y="0" text-anchor="middle" font-size="12" fill="#111" stroke="#111" stroke-width="0.3">/ 10<tspan font-size="8" dy="-4.5">3</tspan><tspan dy="4.5"> copies β-actin</tspan></text>
<text transform="translate(238.3,533.3) scale(1,0.93)" text-anchor="start" font-size="12" fill="#111" stroke="#111" stroke-width="0.3" >WT</text>
<line x1="256.7" y1="530.5999999999999" x2="260.59999999999997" y2="530.5999999999999" stroke="#111" stroke-width="1.2"/>
<path d="M260.09999999999997,528.3999999999999 L268.09999999999997,530.5999999999999 L260.09999999999997,532.8 Z" fill="#111"/>
<text transform="translate(268.5,533.3) scale(1,0.93)" text-anchor="start" font-size="12" fill="#111" stroke="#111" stroke-width="0.3" >WT</text>
<text transform="translate(294.5,533.3) scale(1,0.93)" text-anchor="start" font-size="12" fill="#111" stroke="#111" stroke-width="0.3" >WT</text>
<line x1="312.9" y1="530.5999999999999" x2="316.79999999999995" y2="530.5999999999999" stroke="#111" stroke-width="1.2"/>
<path d="M316.29999999999995,528.3999999999999 L324.29999999999995,530.5999999999999 L316.29999999999995,532.8 Z" fill="#111"/>
<text transform="translate(324.7,533.3) scale(1,0.93)" text-anchor="start" font-size="12" fill="#111" stroke="#111" stroke-width="0.3" >KO</text>
<text transform="translate(289.9,556.9) scale(1,0.93)" text-anchor="middle" font-size="12" fill="#111" stroke="#111" stroke-width="0.3" >Tyro3</text>
<line x1="408.6" y1="396.5" x2="408.6" y2="519.1" stroke="#555" stroke-width="1.2"/>
<line x1="406.8" y1="519.1" x2="514.2" y2="519.1" stroke="#777" stroke-width="1.3"/>
<line x1="405.8" y1="488.45000000000005" x2="408.6" y2="488.45000000000005" stroke="#555" stroke-width="1"/>
<text transform="translate(402.5,493.35) scale(1,0.93)" text-anchor="end" font-size="12" fill="#111" stroke="#111" stroke-width="0.3" >0.02</text>
<line x1="405.8" y1="457.8" x2="408.6" y2="457.8" stroke="#555" stroke-width="1"/>
<text transform="translate(402.5,462.7) scale(1,0.93)" text-anchor="end" font-size="12" fill="#111" stroke="#111" stroke-width="0.3" >0.04</text>
<line x1="405.8" y1="427.15000000000003" x2="408.6" y2="427.15000000000003" stroke="#555" stroke-width="1"/>
<text transform="translate(402.5,432.05) scale(1,0.93)" text-anchor="end" font-size="12" fill="#111" stroke="#111" stroke-width="0.3" >0.06</text>
<line x1="405.8" y1="396.5" x2="408.6" y2="396.5" stroke="#555" stroke-width="1"/>
<text transform="translate(402.5,401.4) scale(1,0.93)" text-anchor="end" font-size="12" fill="#111" stroke="#111" stroke-width="0.3" >0.08</text>
<rect x="422" y="419.6" width="26.69999999999999" height="99.5" fill="#fff" stroke="#333" stroke-width="1.1"/>
<line x1="435.35" y1="419.6" x2="435.35" y2="402.3" stroke="#333" stroke-width="1.1"/>
<line x1="432.75" y1="402.3" x2="437.95000000000005" y2="402.3" stroke="#333" stroke-width="1.1"/>
<rect x="474.7" y="440.7" width="26.5" height="78.40000000000003" fill="#111"/>
<line x1="487.95" y1="440.7" x2="487.95" y2="432" stroke="#333" stroke-width="1.1"/>
<line x1="485.34999999999997" y1="432" x2="490.55" y2="432" stroke="#333" stroke-width="1.1"/>
<text transform="translate(358.5,455) rotate(-90) scale(1,0.93)" x="0" y="0" text-anchor="middle" font-size="12" fill="#111" stroke="#111" stroke-width="0.3">copies Mer mRNA</text>
<text transform="translate(372.7,453.5) rotate(-90) scale(1,0.93)" x="0" y="0" text-anchor="middle" font-size="12" fill="#111" stroke="#111" stroke-width="0.3">/ 10<tspan font-size="8" dy="-4.5">3</tspan><tspan dy="4.5"> copies β-actin</tspan></text>
<text transform="translate(409.5,531.7) scale(1,0.93)" text-anchor="start" font-size="12" fill="#111" stroke="#111" stroke-width="0.3" >WT</text>
<line x1="427.9" y1="529.0" x2="431.79999999999995" y2="529.0" stroke="#111" stroke-width="1.2"/>
<path d="M431.29999999999995,526.8 L439.29999999999995,529.0 L431.29999999999995,531.2 Z" fill="#111"/>
<text transform="translate(439.7,531.7) scale(1,0.93)" text-anchor="start" font-size="12" fill="#111" stroke="#111" stroke-width="0.3" >WT</text>
<text transform="translate(465.2,531.7) scale(1,0.93)" text-anchor="start" font-size="12" fill="#111" stroke="#111" stroke-width="0.3" >WT</text>
<line x1="483.59999999999997" y1="529.0" x2="487.49999999999994" y2="529.0" stroke="#111" stroke-width="1.2"/>
<path d="M486.99999999999994,526.8 L494.99999999999994,529.0 L486.99999999999994,531.2 Z" fill="#111"/>
<text transform="translate(495.4,531.7) scale(1,0.93)" text-anchor="start" font-size="12" fill="#111" stroke="#111" stroke-width="0.3" >KO</text>
<text transform="translate(464.7,556.9) scale(1,0.93)" text-anchor="middle" font-size="12" fill="#111" stroke="#111" stroke-width="0.3" >Mer</text>
</svg>
</body></html>
